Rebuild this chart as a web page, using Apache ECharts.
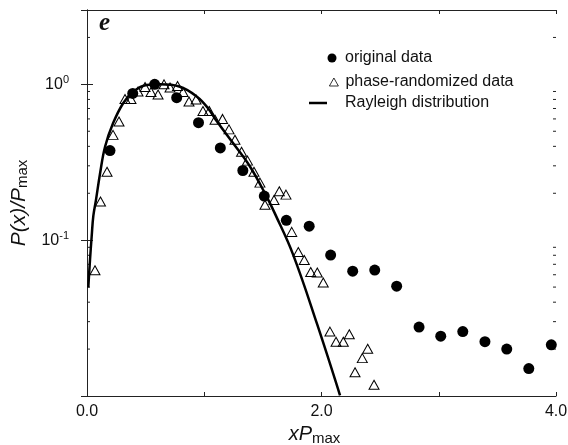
<!DOCTYPE html>
<html>
<head>
<meta charset="utf-8">
<script src="https://cdn.jsdelivr.net/npm/echarts@6/dist/echarts.min.js"></script>
<style>
html, body { margin: 0; padding: 0; background: #fff; }
#chart { width: 568px; height: 445px; }
</style>
</head>
<body>
<div id="chart"></div>
<script>
// filled circles
const origX = [0.196, 0.390, 0.577, 0.765, 0.951, 1.137, 1.329, 1.512, 1.700, 1.895, 2.078,
  2.266, 2.454, 2.641, 2.832, 3.017, 3.205, 3.394, 3.580, 3.768, 3.960];
const origY = [0.376, 0.874, 1.0, 0.821, 0.568, 0.391, 0.280, 0.192, 0.134, 0.123, 0.0802,
  0.0632, 0.0643, 0.0507, 0.0277, 0.0242, 0.0259, 0.0223, 0.0200, 0.0150, 0.0213];

// open triangles
const phaseX = [0.068, 0.115, 0.171, 0.222, 0.273, 0.324, 0.375, 0.435, 0.495, 0.546, 0.606,
  0.657, 0.708, 0.772, 0.819, 0.870, 0.930, 0.989, 1.043, 1.092, 1.156, 1.211, 1.262, 1.318,
  1.369, 1.424, 1.475, 1.518, 1.595, 1.640, 1.697, 1.746, 1.802, 1.853, 1.908, 1.964, 2.015,
  2.072, 2.124, 2.186, 2.237, 2.286, 2.348, 2.394, 2.448];
const phaseY = [0.0641, 0.177, 0.275, 0.474, 0.578, 0.805, 0.805, 0.899, 0.961, 0.893, 0.861,
  1.0, 0.954, 0.975, 0.893, 0.776, 0.800, 0.675, 0.675, 0.592, 0.600, 0.514, 0.441, 0.369,
  0.324, 0.275, 0.234, 0.169, 0.181, 0.206, 0.196, 0.113, 0.0839, 0.0746, 0.0625, 0.0620, 0.0535,
  0.0259, 0.0223, 0.0223, 0.0249, 0.0142, 0.0175, 0.0201, 0.0118];

// solid curve
const rayX = [0.011, 0.026, 0.040, 0.054, 0.077, 0.111, 0.154, 0.222, 0.307, 0.392, 0.507,
  0.623, 0.793, 0.938, 1.032, 1.109, 1.245, 1.390, 1.531, 1.603, 1.757, 1.962, 2.158];
const rayY = [0.0497, 0.0754, 0.106, 0.143, 0.182, 0.267, 0.398, 0.562, 0.754, 0.893, 0.99,
  1.0, 0.965, 0.833, 0.703, 0.577, 0.420, 0.297, 0.191, 0.148, 0.0811, 0.0290, 0.0101];

// log minor ticks on the y axes
const minorTicks = [0.02, 0.03, 0.04, 0.05, 0.06, 0.07, 0.08, 0.09,
  0.2, 0.3, 0.4, 0.5, 0.6, 0.7, 0.8, 0.9, 2];

const names = ['original data', 'phase-randomized data', 'Rayleigh distribution'];

const ink = '#111';
const font = 'Liberation Sans, Arial, Helvetica, sans-serif';
const pair = (xs, ys) => xs.map((x, i) => [x, ys[i]]);
const legendText = pad => ({ fontFamily: font, fontSize: 16, color: ink, padding: [0, 0, 0, pad] });

const chart = echarts.init(document.getElementById('chart'));

const option = {
  animation: false,
  backgroundColor: '#fff',
  textStyle: { fontFamily: font },
  title: {
    text: 'e',
    left: 99,
    top: 11,
    padding: 0,
    textStyle: {
      fontFamily: 'Liberation Serif, DejaVu Serif, serif',
      fontStyle: 'italic',
      fontWeight: 'bold',
      fontSize: 25,
      color: ink
    }
  },
  legend: [
    {
      orient: 'vertical', padding: 0, left: 327.5, top: 50,
      itemWidth: 9, itemHeight: 9,
      textStyle: legendText(3.5),
      data: [{ name: names[0], icon: 'circle' }]
    },
    {
      orient: 'vertical', padding: 0, left: 329, top: 74,
      itemWidth: 9, itemHeight: 8,
      itemStyle: { borderWidth: 0.8 },
      textStyle: legendText(2),
      data: [{ name: names[1], icon: 'triangle' }]
    },
    {
      orient: 'vertical', padding: 0, left: 309, top: 95,
      itemWidth: 18, itemHeight: 9,
      textStyle: legendText(13),
      data: [{ name: names[2], icon: 'path://M0,0H18V2.5H0Z' }]
    }
  ],
  grid: { left: 87, right: 12, top: 10, bottom: 49, outerBoundsMode: 'none' },
  xAxis: [
    {
      type: 'value',
      min: 0,
      max: 4,
      interval: 1,
      name: '{i|xP}{s|max}',
      nameLocation: 'middle',
      nameGap: 26,
      nameTextStyle: {
        padding: [0, 14, 0, 0],
        rich: {
          i: { fontFamily: font, fontStyle: 'italic', fontSize: 20, color: ink },
          s: { fontFamily: font, fontSize: 15, color: ink, padding: [8, 0, 0, 0] }
        }
      },
      axisLine: { lineStyle: { color: '#222', width: 1 } },
      axisTick: { inside: true, length: 4, lineStyle: { color: '#222' } },
      axisLabel: {
        margin: 8,
        fontSize: 16,
        color: ink,
        fontFamily: font,
        formatter: v => (v % 2 === 0 ? v.toFixed(1) : '')
      },
      splitLine: { show: false }
    },
    {
      type: 'value',
      position: 'top',
      min: 0,
      max: 4,
      interval: 1,
      axisLine: { lineStyle: { color: '#222', width: 1 } },
      axisTick: { inside: true, length: 4, lineStyle: { color: '#222' } },
      axisLabel: { show: false },
      splitLine: { show: false }
    }
  ],
  yAxis: [
    {
      type: 'log',
      logBase: 10,
      min: 0.01,
      max: 3,
      name: '{i|P(x)/P}{s|max}',
      nameLocation: 'middle',
      nameGap: 53,
      nameTextStyle: {
        rich: {
          i: { fontFamily: font, fontStyle: 'italic', fontSize: 21, color: ink },
          s: { fontFamily: font, fontSize: 15, color: ink, padding: [8, 0, 0, 0] }
        }
      },
      axisLine: { show: true, lineStyle: { color: '#222', width: 1 } },
      axisTick: { inside: true, length: 6, lineStyle: { color: '#222' } },
      axisLabel: {
        margin: 18,
        color: ink,
        formatter: v => {
          if (Math.abs(v - 1) < 1e-9) return '{b|10}{s|0}';
          if (Math.abs(v - 0.1) < 1e-9) return '{b|10}{s|-1}';
          return '';
        },
        rich: {
          b: { fontFamily: font, fontSize: 16, color: ink },
          s: { fontFamily: font, fontSize: 11, color: ink, padding: [0, 0, 9, 0] }
        }
      },
      splitLine: { show: false }
    },
    {
      type: 'log',
      logBase: 10,
      min: 0.01,
      max: 3,
      position: 'right',
      axisLine: { show: true, lineStyle: { color: '#222', width: 1 } },
      axisTick: { inside: true, length: 6, lineStyle: { color: '#222' } },
      axisLabel: { show: false },
      splitLine: { show: false }
    }
  ],
  series: [
    {
      type: 'custom',
      silent: true,
      xAxisIndex: 0,
      yAxisIndex: 0,
      data: minorTicks.map(v => [0, v]),
      renderItem: (params, api) => {
        const v = api.value(1);
        const l = api.coord([0, v]);
        const r = api.coord([4, v]);
        const st = { stroke: '#222', lineWidth: 1 };
        return {
          type: 'group',
          children: [
            { type: 'line', shape: { x1: l[0], y1: l[1], x2: l[0] + 3, y2: l[1] }, style: st },
            { type: 'line', shape: { x1: r[0] - 3, y1: r[1], x2: r[0], y2: r[1] }, style: st }
          ]
        };
      }
    },
    {
      name: names[2],
      type: 'line',
      data: pair(rayX, rayY),
      symbol: 'none',
      smooth: 0.4,
      lineStyle: { color: '#000', width: 2.5 },
      itemStyle: { color: '#000' }
    },
    {
      name: names[1],
      type: 'scatter',
      data: pair(phaseX, phaseY),
      symbol: 'triangle',
      symbolSize: [10, 9],
      itemStyle: { color: 'rgba(255,255,255,0)', borderColor: '#000', borderWidth: 1, opacity: 1 }
    },
    {
      name: names[0],
      type: 'scatter',
      data: pair(origX, origY),
      symbol: 'circle',
      symbolSize: 11,
      itemStyle: { color: '#000', opacity: 1 }
    }
  ]
};

chart.setOption(option);
</script>
</body>
</html>
